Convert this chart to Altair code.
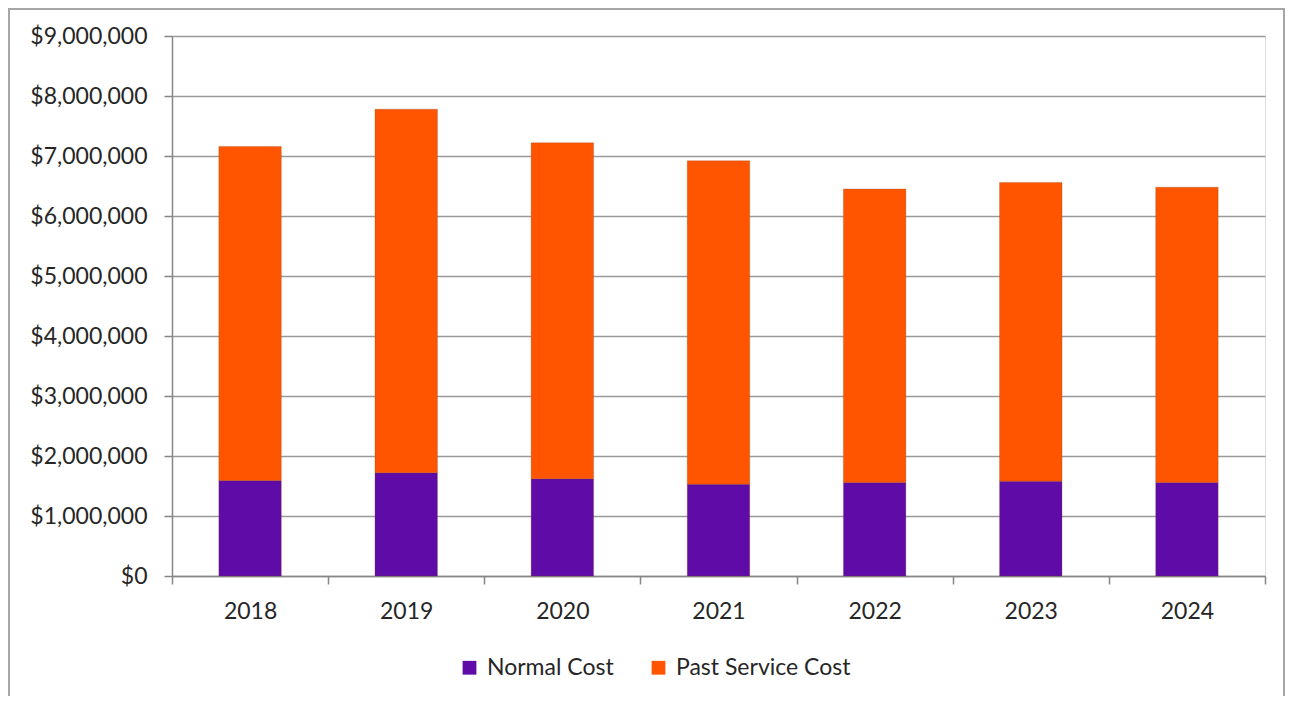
import altair as alt
import pandas as pd

years = ["2018", "2019", "2020", "2021", "2022", "2023", "2024"]
normal_cost = [1590000, 1720000, 1620000, 1530000, 1560000, 1580000, 1560000]
total_cost = [7160000, 7780000, 7220000, 6920000, 6450000, 6560000, 6480000]
past_service_cost = [t - n for t, n in zip(total_cost, normal_cost)]
series = ["Normal Cost", "Past Service Cost"]
colors = ["#5F0BA8", "#FF5500"]
y_ticks = [0, 1000000, 2000000, 3000000, 4000000, 5000000, 6000000, 7000000, 8000000, 9000000]

rows = []
for i, y in enumerate(years):
    rows.append({"year": y, "series": series[0], "value": normal_cost[i], "ord": 0})
    rows.append({"year": y, "series": series[1], "value": past_service_cost[i], "ord": 1})
df = pd.DataFrame(rows)

FONT = "Lato"
TXT = "#262626"

bars = alt.Chart(df).mark_bar(width=alt.RelativeBandSize(0.4), stroke="#7a3a10",
                              strokeWidth=0.5, strokeOpacity=0.5).encode(
    x=alt.X("year:N", sort=years,
            scale=alt.Scale(paddingInner=0, paddingOuter=0),
            axis=alt.Axis(title=None, labelAngle=0, labelFontSize=23, labelFont=FONT,
                          labelColor=TXT, labelPadding=16, tickBand="extent",
                          tickSize=8, tickColor="#868686", tickWidth=1.5,
                          domainColor="#868686", domainWidth=1.5, grid=False)),
    y=alt.Y("value:Q", stack="zero",
            scale=alt.Scale(domain=[0, 9000000], nice=False),
            axis=alt.Axis(title=None, values=y_ticks, format="$,.0f", labelFontSize=23,
                          labelFont=FONT, labelColor=TXT, labelPadding=17,
                          tickSize=8, tickColor="#868686", tickWidth=1.5,
                          domainColor="#868686", domainWidth=1.5,
                          gridColor="#9a9a9a", gridWidth=1.5)),
    color=alt.Color("series:N", scale=alt.Scale(domain=series, range=colors),
                    legend=alt.Legend(title=None, orient="none", legendX=286, legendY=620,
                                      direction="horizontal", symbolType="square",
                                      symbolSize=190, symbolStrokeWidth=0,
                                      labelFontSize=23, labelFont=FONT, labelColor=TXT,
                                      labelLimit=400, labelOffset=6, columnPadding=33)),
    order=alt.Order("ord:Q"),
)

border_df = pd.DataFrame({"k": [1]})
border = alt.Chart(border_df).mark_rect(fill=None, stroke="#a6a6a6", strokeWidth=2).encode(
    x=alt.value(-163), x2=alt.value(1112), y=alt.value(-27), y2=alt.value(700)
)

chart = alt.layer(border, bars).properties(
    width=1093, height=540,
    autosize=alt.AutoSizeParams(type="none"),
    padding={"left": 164, "top": 28, "right": 20, "bottom": 120},
).configure_view(stroke=None).configure(background="white")

chart.save("out.html", embed_options={"renderer": "svg", "actions": False})
